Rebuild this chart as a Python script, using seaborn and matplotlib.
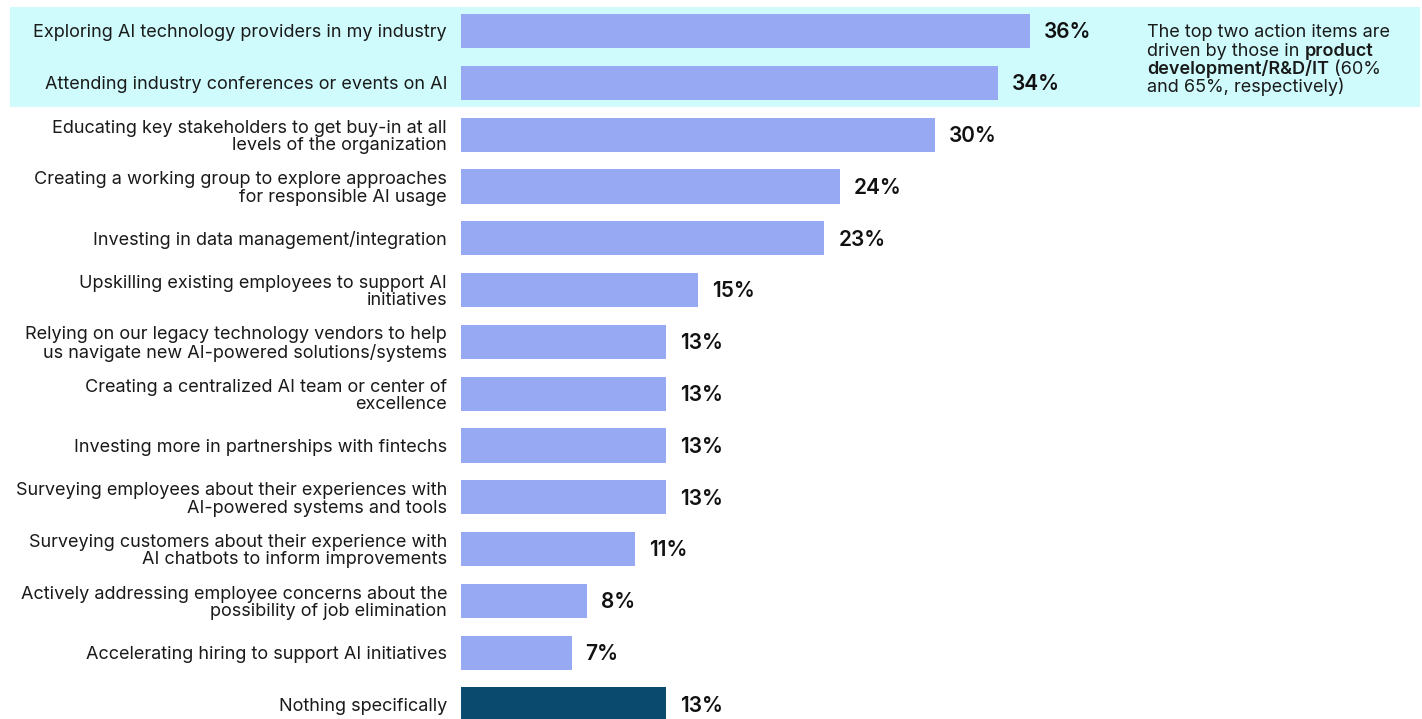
import matplotlib
matplotlib.use("Agg")
import matplotlib.pyplot as plt
import seaborn as sns
import pandas as pd
from matplotlib.patches import Rectangle

actions = [
    "Exploring AI technology providers in my industry",
    "Attending industry conferences or events on AI",
    "Educating key stakeholders to get buy-in at all\nlevels of the organization",
    "Creating a working group to explore approaches\nfor responsible AI usage",
    "Investing in data management/integration",
    "Upskilling existing employees to support AI\ninitiatives",
    "Relying on our legacy technology vendors to help\nus navigate new AI-powered solutions/systems",
    "Creating a centralized AI team or center of\nexcellence",
    "Investing more in partnerships with fintechs",
    "Surveying employees about their experiences with\nAI-powered systems and tools",
    "Surveying customers about their experience with\nAI chatbots to inform improvements",
    "Actively addressing employee concerns about the\npossibility of job elimination",
    "Accelerating hiring to support AI initiatives",
    "Nothing specifically",
]
shares = [36, 34, 30, 24, 23, 15, 13, 13, 13, 13, 11, 8, 7, 13]
groups = ["action"] * 13 + ["none"]

palette = {"action": "#97A9F2", "none": "#0B4A6F"}
band_color = "#CFFBFC"

sns.set_theme(style="white")
plt.rcParams["font.family"] = ["Inter", "DejaVu Sans"]

W, H = 1422, 719
fig = plt.figure(figsize=(W / 100, H / 100), dpi=100)
fig.patch.set_facecolor("white")

# highlight band behind the two leading items
fig.patches.append(Rectangle((10 / W, 1 - 107 / H), 1410 / W, 100 / H,
                             transform=fig.transFigure, facecolor=band_color,
                             edgecolor="none", zorder=-1))

ax = fig.add_axes([461 / W, 0, 1 - 461 / W, 1])
ax.set_facecolor("none")

df = pd.DataFrame({"action": actions, "share": shares, "group": groups})
sns.barplot(data=df, x="share", y="action", hue="group", palette=palette,
            dodge=False, width=0.66, legend=False, saturation=1,
            linewidth=0, ax=ax)

ax.set_xlim(0, 961 / 15.8)
ax.set_ylim(13.28, -0.598)
for s in ax.spines.values():
    s.set_visible(False)
ax.set_xticks([])
ax.set_xlabel("")
ax.set_ylabel("")
ax.tick_params(axis="y", length=0, pad=10, labelsize=13, labelcolor="#1a1a1a")
for lab in ax.get_yticklabels():
    lab.set_linespacing(1.02)

for i, v in enumerate(shares):
    ax.annotate(f"{v}%", xy=(v, i), xytext=(10, -1), textcoords="offset points",
                va="center", ha="left", fontsize=15, fontweight="semibold",
                color="#111111")

# side note with bold segments
nx = 1147 / W
fs = 13
lines = [
    [("The top two action items are", "normal")],
    [("driven by those in ", "normal"), ("product", "semibold")],
    [("development/R&D/IT", "semibold"), (" (60%", "normal")],
    [("and 65%, respectively)", "normal")],
]
for k, segs in enumerate(lines):
    y = 1 - (37 + 18.5 * k) / H
    last = None
    for text, wt in segs:
        if last is None:
            last = fig.text(nx, y, text, fontsize=fs, fontweight=wt,
                            color="#1a1a1a", va="baseline", ha="left")
        else:
            last = ax.annotate(text, xy=(1, 0), xycoords=last, va="bottom",
                               ha="left", fontsize=fs, fontweight=wt,
                               color="#1a1a1a", annotation_clip=False)

fig.savefig("out.png", dpi=100)
